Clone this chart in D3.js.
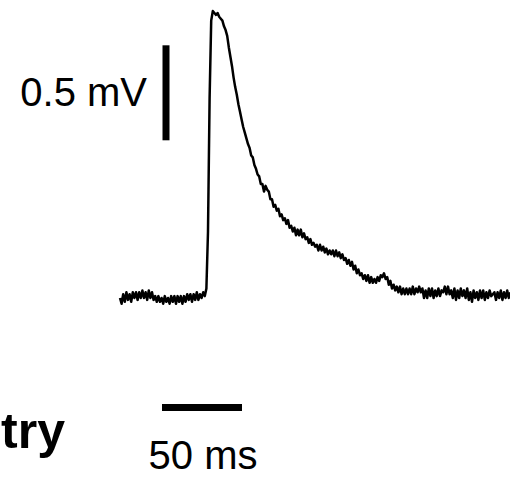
<!DOCTYPE html>
<html>
<head>
<meta charset="utf-8">
<script src="https://cdn.jsdelivr.net/npm/d3@7"></script>
<style>
  html, body { margin: 0; padding: 0; background: #fff; }
  svg { display: block; }
</style>
</head>
<body>
<svg id="chart" width="510" height="477"></svg>
<script>
// ---- data ----
const sampleIntervalMs = 1;             // one sample per ms
const traceStartMs = 0;
// membrane potential (mV, relative to baseline), one value per ms
const voltageMv = [
  0.00,-0.03,0.02,-0.02,0.03,-0.01,0.02,-0.02,0.03,0.00,
  0.03,-0.01,0.03,0.00,0.04,0.00,0.03,-0.01,0.04,0.00,
  0.03,-0.01,0.01,-0.02,0.01,-0.02,0.00,-0.03,0.01,-0.02,
  0.00,-0.03,0.01,-0.02,0.01,-0.03,0.01,-0.02,0.01,-0.03,
  0.01,-0.02,0.02,-0.01,0.02,-0.02,0.02,-0.01,0.03,-0.01,
  0.02,0.00,0.03,0.01,
  0.05,0.35,1.05,1.46,1.51,1.50,
  1.49,1.50,1.48,1.47,1.46,1.43,1.41,1.38,1.32,1.27,
  1.22,1.16,1.11,1.07,1.02,0.98,0.94,0.90,0.87,0.84,
  0.81,0.79,0.75,0.74,0.70,0.68,0.65,0.64,0.60,0.60,
  0.56,0.59,0.57,0.56,0.52,0.52,0.48,0.49,0.46,0.47,
  0.43,0.44,0.41,0.42,0.39,0.41,0.37,0.38,0.35,0.37,
  0.33,0.36,0.33,0.36,0.32,0.34,0.31,0.32,0.29,0.31,
  0.28,0.29,0.27,0.28,0.25,0.28,0.25,0.27,0.24,0.26,
  0.23,0.25,0.23,0.25,0.22,0.25,0.22,0.24,0.21,0.23,
  0.20,0.21,0.18,0.20,0.17,0.19,0.15,0.17,0.13,0.15,
  0.12,0.13,0.10,0.12,0.09,0.12,0.08,0.11,0.08,0.10,
  0.08,0.11,0.09,0.12,0.11,0.13,0.10,0.11,0.07,0.09,
  0.05,0.07,0.04,0.06,0.03,0.06,0.02,0.05,0.02,0.05,
  0.02,0.05,0.02,0.06,0.02,0.05,0.03,0.06,0.03,0.05,
  0.00,0.04,0.00,0.05,0.01,0.05,0.00,0.04,0.01,0.05,
  0.01,0.04,0.03,0.06,0.02,0.06,0.02,0.04,0.00,0.05,
  -0.01,0.04,0.00,0.05,0.01,0.04,0.00,0.05,-0.01,0.03,
  -0.02,0.04,0.00,0.03,-0.01,0.04,0.00,0.04,-0.01,0.03,
  0.00,0.04,0.01,0.02,0.03,-0.01,0.03,0.00,0.04,-0.01,
  0.03,0.00,0.04,0.00,0.03
];
const scaleBarVoltageMv = 0.5;
const scaleBarTimeMs = 50;
const scaleBarLabels = ["0.5 mV", "50 ms"];
const panelLabel = "try";

// ---- layout ----
const x = d3.scaleLinear().domain([0, 243.75]).range([120, 510]);
const y = d3.scaleLinear().domain([0, 1.5]).range([298, 13]);

const svg = d3.select("#chart");
const font = "'Liberation Sans', Arial, Helvetica, sans-serif";

const points = voltageMv.map((v, i) => [traceStartMs + i * sampleIntervalMs, v]);

svg.append("path")
  .datum(points)
  .attr("fill", "none")
  .attr("stroke", "#000")
  .attr("stroke-width", 2.5)
  .attr("stroke-linejoin", "round")
  .attr("d", d3.line().x(d => x(d[0])).y(d => y(d[1])));

// vertical scale bar (0.5 mV)
const vBarT = 28.75, vBarBottom = 0.83;
svg.append("line")
  .attr("x1", x(vBarT)).attr("x2", x(vBarT))
  .attr("y1", y(vBarBottom)).attr("y2", y(vBarBottom + scaleBarVoltageMv))
  .attr("stroke", "#000").attr("stroke-width", 7);

svg.append("text")
  .attr("x", 147).attr("y", 106)
  .attr("text-anchor", "end")
  .attr("font-family", font).attr("font-size", 40)
  .attr("fill", "#000")
  .text(scaleBarLabels[0]);

// horizontal scale bar (50 ms)
const hBarStart = 26.25, hBarV = -0.576;
svg.append("line")
  .attr("x1", x(hBarStart)).attr("x2", x(hBarStart + scaleBarTimeMs))
  .attr("y1", y(hBarV)).attr("y2", y(hBarV))
  .attr("stroke", "#000").attr("stroke-width", 7);

svg.append("text")
  .attr("x", 203).attr("y", 469)
  .attr("text-anchor", "middle")
  .attr("font-family", font).attr("font-size", 40)
  .attr("fill", "#000")
  .text(scaleBarLabels[1]);

// cut-off panel label
svg.append("text")
  .attr("x", 65).attr("y", 448)
  .attr("text-anchor", "end")
  .attr("font-family", font).attr("font-size", 50)
  .attr("font-weight", "bold")
  .attr("fill", "#000")
  .text(panelLabel);
</script>
</body>
</html>
